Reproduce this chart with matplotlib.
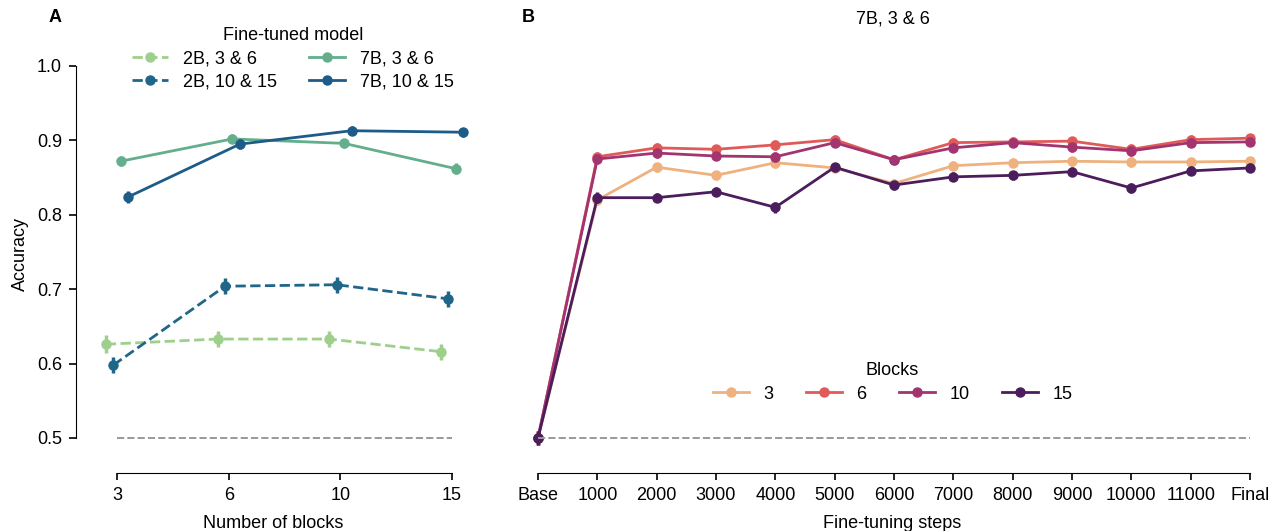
import matplotlib
matplotlib.use('Agg')
import matplotlib.pyplot as plt
import numpy as np

plt.rcParams['font.family'] = ['Liberation Sans', 'DejaVu Sans']
plt.rcParams['font.size'] = 13

# panel A data
block_labels = ['3', '6', '10', '15']
model_names = ['2B, 3 & 6', '2B, 10 & 15', '7B, 3 & 6', '7B, 10 & 15']
acc_2b_36 = [0.626, 0.633, 0.633, 0.616]
acc_2b_1015 = [0.598, 0.704, 0.706, 0.687]
acc_7b_36 = [0.872, 0.902, 0.896, 0.862]
acc_7b_1015 = [0.824, 0.895, 0.913, 0.911]
err_2b_36 = [0.012, 0.011, 0.011, 0.011]
err_2b_1015 = [0.011, 0.011, 0.011, 0.011]
err_7b_36 = [0.007, 0.006, 0.006, 0.007]
err_7b_1015 = [0.008, 0.007, 0.006, 0.006]

# panel B data
step_labels = ['Base', '1000', '2000', '3000', '4000', '5000', '6000', '7000',
               '8000', '9000', '10000', '11000', 'Final']
block_names = ['3', '6', '10', '15']
acc_b3 = [0.5, 0.820, 0.864, 0.853, 0.870, 0.863, 0.842, 0.866, 0.870, 0.872, 0.871, 0.871, 0.872]
acc_b6 = [0.5, 0.878, 0.890, 0.888, 0.894, 0.901, 0.874, 0.897, 0.898, 0.899, 0.888, 0.901, 0.903]
acc_b10 = [0.5, 0.875, 0.883, 0.879, 0.878, 0.897, 0.874, 0.890, 0.897, 0.891, 0.886, 0.897, 0.898]
acc_b15 = [0.5, 0.823, 0.823, 0.831, 0.810, 0.864, 0.840, 0.851, 0.853, 0.858, 0.836, 0.859, 0.863]
err_b = [0.009, 0.007, 0.006, 0.006, 0.007, 0.006, 0.006, 0.006, 0.006, 0.006, 0.007, 0.006, 0.006]

colors_a = ['#9fcf8c', '#1f6689', '#63ae8c', '#1d5c88']
styles_a = ['--', '--', '-', '-']
colors_b = ['#efb17e', '#e05a5a', '#a2346f', '#4b1d5c']

W, H = 1277, 531
fig = plt.figure(figsize=(W / 100, H / 100), dpi=100)
ax1 = fig.add_axes([76 / W, 58 / H, 394 / W, 438 / H])
ax2 = fig.add_axes([520 / W, 58 / H, 745 / W, 438 / H])

ylo = 0.5 - (473 - 438) / 744
yhi = 0.5 + (438 - 35) / 744

# ---- A ----
xa = np.arange(len(block_labels))
offsets = [-0.1, -0.033, 0.033, 0.1]
series_a = [acc_2b_36, acc_2b_1015, acc_7b_36, acc_7b_1015]
errs_a = [err_2b_36, err_2b_1015, err_7b_36, err_7b_1015]
for vals, err, name, c, ls, off in zip(series_a, errs_a, model_names, colors_a, styles_a, offsets):
    ax1.errorbar(xa + off, vals, yerr=err, fmt='none', ecolor=c, elinewidth=2.5, capsize=0)
    ax1.plot(xa + off, vals, color=c, linestyle=ls, linewidth=2,
             marker='o', markersize=6.5, label=name)
ax1.hlines(0.5, 0, 3, colors='#999999', linestyles='--', linewidth=1.4)
ax1.set_xlim((76 - 117) / 111.7, (470 - 117) / 111.7)
ax1.set_ylim(ylo, yhi)
ax1.set_xticks(xa)
ax1.set_xticklabels(block_labels)
ax1.set_yticks([0.5, 0.6, 0.7, 0.8, 0.9, 1.0])
ax1.spines['top'].set_visible(False)
ax1.spines['right'].set_visible(False)
ax1.spines['left'].set_bounds(0.5, 1.0)
ax1.spines['bottom'].set_bounds(0, 3)
ax1.tick_params(direction='out', length=5, width=1.2, labelsize=13, pad=5)
ax1.set_ylabel('Accuracy', fontsize=13, labelpad=6)
ax1.set_xlabel('Number of blocks', fontsize=13, labelpad=8)
ax1.legend(title='Fine-tuned model', ncol=2, frameon=False, loc='upper center',
           bbox_to_anchor=(0.55, 1.055), fontsize=13, title_fontsize=13,
           columnspacing=1.8, handletextpad=0.8, labelspacing=0.35, handlelength=2.0)

# ---- B ----
xb = np.arange(len(step_labels))
series_b = [acc_b3, acc_b6, acc_b10, acc_b15]
for vals, name, c in zip(series_b, block_names, colors_b):
    ax2.errorbar(xb, vals, yerr=err_b, fmt='none', ecolor=c, elinewidth=2.5, capsize=0)
    ax2.plot(xb, vals, color=c, linewidth=2, marker='o', markersize=6.5, label=name)
ax2.hlines(0.5, 0, 12, colors='#999999', linestyles='--', linewidth=1.4)
ax2.set_xlim(-18 / 59.33, 12 + 15 / 59.33)
ax2.set_ylim(ylo, yhi)
ax2.set_xticks(xb)
ax2.set_xticklabels(step_labels)
ax2.set_yticks([])
for s in ['top', 'right', 'left']:
    ax2.spines[s].set_visible(False)
ax2.spines['bottom'].set_bounds(0, 12)
ax2.tick_params(direction='out', length=5, width=1.2, labelsize=13, pad=5)
ax2.set_xlabel('Fine-tuning steps', fontsize=13, labelpad=8)
ax2.set_title('7B, 3 & 6', fontsize=13, pad=8)
ax2.legend(title='Blocks', ncol=4, frameon=False, loc='upper center',
           bbox_to_anchor=(0.5, 0.29), fontsize=13, title_fontsize=13,
           columnspacing=1.8, handletextpad=0.8, labelspacing=0.35)

fig.text(55 / W, 1 - 18 / H, 'A', fontsize=13, fontweight='bold', va='center', ha='center')
fig.text(528 / W, 1 - 18 / H, 'B', fontsize=13, fontweight='bold', va='center', ha='center')

fig.savefig('out.png', dpi=100)
